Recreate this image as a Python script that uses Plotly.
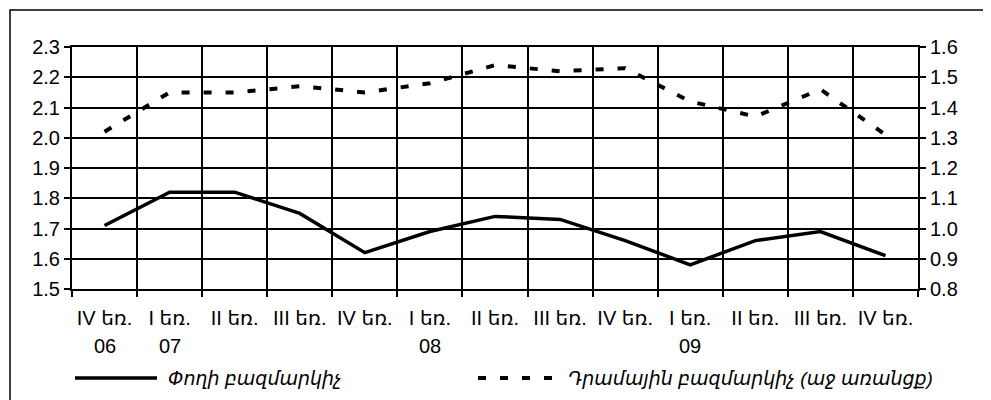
import plotly.graph_objects as go

quarters = ["IV եռ.", "I եռ.", "II եռ.", "III եռ.", "IV եռ.", "I եռ.", "II եռ.",
            "III եռ.", "IV եռ.", "I եռ.", "II եռ.", "III եռ.", "IV եռ."]
years = ["06", "07", "", "", "", "08", "", "", "", "09", "", "", ""]
money_multiplier = [1.71, 1.82, 1.82, 1.75, 1.62, 1.69, 1.74, 1.73, 1.66, 1.58, 1.66, 1.69, 1.61]
dram_multiplier = [1.32, 1.45, 1.45, 1.47, 1.45, 1.48, 1.54, 1.52, 1.53, 1.42, 1.37, 1.46, 1.31]
name_money = "Փողի բազմարկիչ"
name_dram = "Դրամային բազմարկիչ (աջ առանցք)"

FONT = "Liberation Sans, Arial, DejaVu Sans, Noto Sans, sans-serif"
OFF = 8  # page body margin
W, H = 991 - OFF, 400 - OFF
# target plot area in window pixels: x 72..918, y 47..289
ML, MT = 72 - OFF, 47 - OFF
MR = W - (918 - OFF)
MB = H - (289 - OFF)
PW, PH = W - ML - MR, H - MT - MB

def px(x):
    return (x - OFF - ML) / PW

def py(y):
    return (H - MB - (y - OFF)) / PH

xs = list(range(len(quarters)))

fig = go.Figure()
fig.add_trace(go.Scatter(x=xs, y=money_multiplier, mode="lines", name=name_money,
                         line=dict(color="black", width=3.5), yaxis="y"))
fig.add_trace(go.Scatter(x=xs, y=dram_multiplier, mode="lines", name=name_dram,
                         line=dict(color="black", width=4, dash="8px,14px"), yaxis="y2"))

axis_font = dict(family=FONT, size=20, color="black")
fig.update_layout(
    width=W, height=H,
    margin=dict(l=ML, r=MR, t=MT, b=MB),
    paper_bgcolor="white", plot_bgcolor="white",
    showlegend=False,
    xaxis=dict(range=[-0.5, len(quarters) - 0.5], tickmode="array", tickvals=xs, ticktext=quarters,
               ticks="", showgrid=False, zeroline=False, tickfont=axis_font,
               showline=True, linecolor="black", linewidth=2, mirror=True,
               ticklabelstandoff=10,
               minor=dict(tick0=-0.5, dtick=1, showgrid=True, gridcolor="black", gridwidth=2,
                          ticks="outside", ticklen=6, tickcolor="black", tickwidth=2)),
    yaxis=dict(range=[1.5, 2.3], dtick=0.1, tickformat=".1f", showgrid=True, gridcolor="black",
               gridwidth=2, zeroline=False, ticks="outside", ticklen=6, tickcolor="black", tickwidth=2,
               showline=True, linecolor="black", linewidth=2, tickfont=axis_font),
    yaxis2=dict(range=[0.8, 1.6], dtick=0.1, tickformat=".1f", overlaying="y", side="right",
                showgrid=False, zeroline=False, ticks="outside", ticklen=6, tickcolor="black",
                tickwidth=2, showline=True, linecolor="black", linewidth=2, tickfont=axis_font),
)

annotations = []
for i, yr in enumerate(years):
    if yr:
        annotations.append(dict(x=xs[i], y=py(346), xref="x", yref="paper", text=yr,
                                showarrow=False, font=axis_font, xanchor="center", yanchor="middle"))

legend_font = dict(family=FONT, size=19, color="black")
annotations.append(dict(x=px(166), y=py(379), xref="paper", yref="paper", text="<i>" + name_money + "</i>",
                        showarrow=False, font=legend_font, xanchor="left", yanchor="middle"))
annotations.append(dict(x=px(566), y=py(379), xref="paper", yref="paper", text="<i>" + name_dram + "</i>",
                        showarrow=False, font=legend_font, xanchor="left", yanchor="middle"))
fig.update_layout(annotations=annotations)

shapes = [
    dict(type="rect", xref="paper", yref="paper", x0=px(10), x1=px(987), y0=py(410), y1=py(10),
         line=dict(color="black", width=1.5), layer="below"),
    dict(type="line", xref="paper", yref="paper", x0=px(75), x1=px(157), y0=py(378), y1=py(378),
         line=dict(color="black", width=3.5)),
    dict(type="line", xref="paper", yref="paper", x0=px(478), x1=px(556), y0=py(378), y1=py(378),
         line=dict(color="black", width=4, dash="8px,14px")),
]
fig.update_layout(shapes=shapes)

fig.write_html("out.html")
